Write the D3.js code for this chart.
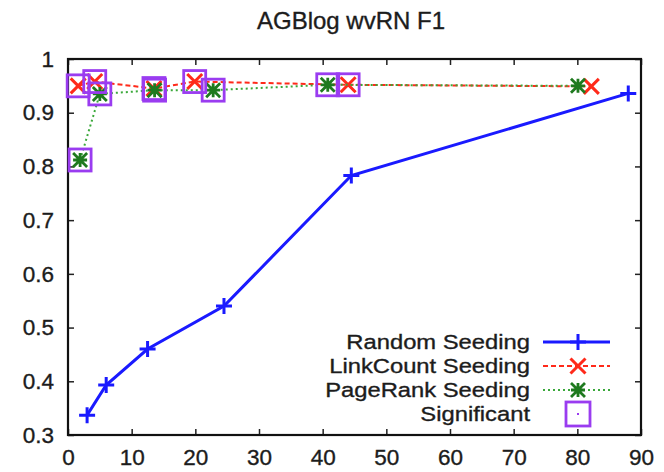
<!DOCTYPE html>
<html>
<head>
<meta charset="utf-8">
<script src="https://cdn.jsdelivr.net/npm/d3@7"></script>
<style>
  html, body { margin: 0; padding: 0; background: #fff; }
  svg text { font-family: "Liberation Sans", Arial, sans-serif; fill: #1c1c1c; stroke: #1c1c1c; stroke-width: 0.35px; }
</style>
</head>
<body>
<svg id="chart" width="664" height="472"></svg>
<script>
// Seed budget (x) and F1 (y) for each seeding strategy
const randomX = [3, 6, 12.5, 24.5, 44.5, 88];
const randomY = [0.337, 0.393, 0.460, 0.540, 0.783, 0.936];

const linkX = [1.6, 4.2, 13.5, 19.9, 44, 82.2];
const linkY = [0.950, 0.958, 0.945, 0.958, 0.952, 0.949];
const linkSig = [true, true, true, true, true, false];

const pageX = [1.9, 5.0, 13.6, 22.8, 40.8, 80.1];
const pageY = [0.812, 0.935, 0.942, 0.942, 0.952, 0.950];
const pageSig = [true, true, true, true, true, false];

const xTicks = [0, 10, 20, 30, 40, 50, 60, 70, 80, 90];
const yTicks = [0.3, 0.4, 0.5, 0.6, 0.7, 0.8, 0.9, 1];

const titleText = "AGBlog wvRN F1";
const legendLabels = ["Random Seeding", "LinkCount Seeding", "PageRank Seeding", "Significant"];

const svg = d3.select("#chart");
const plotLeft = 68, plotRight = 641, plotTop = 59, plotBottom = 435;

const x = d3.scaleLinear().domain([0, 90]).range([plotLeft, plotRight]);
const y = d3.scaleLinear().domain([0.3, 1]).range([plotBottom, plotTop]);

const colors = { random: "#1a1aff", link: "#ff2a1a", pageLine: "#3aa83a", pageMark: "#1f7a1f", sig: "#9a3cf0" };

// Title
svg.append("text")
  .attr("x", 351).attr("y", 29)
  .attr("text-anchor", "middle")
  .style("font-size", "24px")
  .text(titleText);

// Axes with inward ticks on all four sides
const tickLen = 6;
const fmtY = d => (d === 1 ? "1" : d3.format(".1f")(d));

const gB = svg.append("g").attr("transform", `translate(0,${plotBottom})`)
  .call(d3.axisBottom(x).tickValues(xTicks).tickSizeInner(-tickLen).tickSizeOuter(0).tickPadding(16));
const gT = svg.append("g").attr("transform", `translate(0,${plotTop})`)
  .call(d3.axisTop(x).tickValues(xTicks).tickSizeInner(-tickLen).tickSizeOuter(0).tickFormat(""));
const gL = svg.append("g").attr("transform", `translate(${plotLeft},0)`)
  .call(d3.axisLeft(y).tickValues(yTicks).tickSizeInner(-tickLen).tickSizeOuter(0).tickPadding(14).tickFormat(fmtY));
const gR = svg.append("g").attr("transform", `translate(${plotRight},0)`)
  .call(d3.axisRight(y).tickValues(yTicks).tickSizeInner(-tickLen).tickSizeOuter(0).tickFormat(""));

[gB, gT, gL, gR].forEach(g => {
  g.select(".domain").remove();
  g.selectAll(".tick line").attr("stroke", "#222").attr("stroke-width", 1.5);
  g.selectAll("text").style("font-size", "22.5px").attr("fill", "#1c1c1c");
});
gB.selectAll("text").attr("dy", "0.62em");

// Frame
svg.append("rect")
  .attr("x", plotLeft).attr("y", plotTop)
  .attr("width", plotRight - plotLeft).attr("height", plotBottom - plotTop)
  .attr("fill", "none").attr("stroke", "#111").attr("stroke-width", 2.2);

const line = d3.line().x(d => x(d[0])).y(d => y(d[1]));
const pts = (xs, ys) => xs.map((v, i) => [v, ys[i]]);

// Marker drawers
function plus(g, cx, cy, s, color, w) {
  g.append("path").attr("d", `M${cx - s},${cy}H${cx + s}M${cx},${cy - s}V${cy + s}`)
    .attr("stroke", color).attr("stroke-width", w).attr("fill", "none");
}
function cross(g, cx, cy, s, color, w) {
  g.append("path").attr("d", `M${cx - s},${cy - s}L${cx + s},${cy + s}M${cx - s},${cy + s}L${cx + s},${cy - s}`)
    .attr("stroke", color).attr("stroke-width", w).attr("fill", "none");
}
function star(g, cx, cy, s, color, w) {
  plus(g, cx, cy, s, color, w);
  cross(g, cx, cy, s, color, w);
  g.append("rect").attr("x", cx - s * 0.55).attr("y", cy - s * 0.55)
    .attr("width", s * 1.1).attr("height", s * 1.1).attr("fill", color).attr("opacity", 0.55);
}
function square(g, cx, cy, s, color, w) {
  g.append("rect").attr("x", cx - s).attr("y", cy - s).attr("width", 2 * s).attr("height", 2 * s)
    .attr("fill", "none").attr("stroke", color).attr("stroke-width", w);
}

const plot = svg.append("g");

// Random Seeding
const randomPts = pts(randomX, randomY);
plot.append("path").datum(randomPts).attr("d", line)
  .attr("fill", "none").attr("stroke", colors.random).attr("stroke-width", 3);
randomPts.forEach(d => plus(plot, x(d[0]), y(d[1]), 8, colors.random, 3));

// LinkCount Seeding
const linkPts = pts(linkX, linkY);
plot.append("path").datum(linkPts).attr("d", line)
  .attr("fill", "none").attr("stroke", colors.link).attr("stroke-width", 2)
  .attr("stroke-dasharray", "5,3");
linkPts.forEach(d => cross(plot, x(d[0]), y(d[1]), 7.5, colors.link, 3));

// PageRank Seeding
const pagePts = pts(pageX, pageY);
plot.append("path").datum(pagePts).attr("d", line)
  .attr("fill", "none").attr("stroke", colors.pageLine).attr("stroke-width", 2)
  .attr("stroke-dasharray", "2,3");
pagePts.forEach(d => star(plot, x(d[0]), y(d[1]), 7, colors.pageMark, 2.8));

// Significant results
const sigPts = linkPts.filter((d, i) => linkSig[i]).concat(pagePts.filter((d, i) => pageSig[i]));
sigPts.forEach(d => square(plot, x(d[0]), y(d[1]), 11, colors.sig, 2.8));

// Legend (labels slightly widened, right-aligned against the samples)
const legend = svg.append("g");
const rowY = [342, 366, 390, 414];
const textRight = 530, sampleL = 543, sampleR = 610, markX = 578;
legendLabels.forEach((label, i) => {
  legend.append("g")
    .attr("transform", `translate(${textRight},${rowY[i]}) scale(1.16,1)`)
    .append("text")
    .attr("x", 0).attr("y", 0)
    .attr("dy", "0.36em")
    .attr("text-anchor", "end")
    .style("font-size", "20.5px")
    .text(label);
});
legend.append("line").attr("x1", sampleL).attr("x2", sampleR).attr("y1", rowY[0]).attr("y2", rowY[0])
  .attr("stroke", colors.random).attr("stroke-width", 3);
plus(legend, markX, rowY[0], 8, colors.random, 3);
legend.append("line").attr("x1", sampleL).attr("x2", sampleR).attr("y1", rowY[1]).attr("y2", rowY[1])
  .attr("stroke", colors.link).attr("stroke-width", 2).attr("stroke-dasharray", "5,3");
cross(legend, markX, rowY[1], 7.5, colors.link, 3);
legend.append("line").attr("x1", sampleL).attr("x2", sampleR).attr("y1", rowY[2]).attr("y2", rowY[2])
  .attr("stroke", colors.pageLine).attr("stroke-width", 2).attr("stroke-dasharray", "2,3");
star(legend, markX, rowY[2], 7, colors.pageMark, 2.8);
square(legend, markX, rowY[3], 12, colors.sig, 2.8);
legend.append("rect").attr("x", markX - 1).attr("y", rowY[3] - 1).attr("width", 2).attr("height", 2)
  .attr("fill", colors.sig);
</script>
</body>
</html>
